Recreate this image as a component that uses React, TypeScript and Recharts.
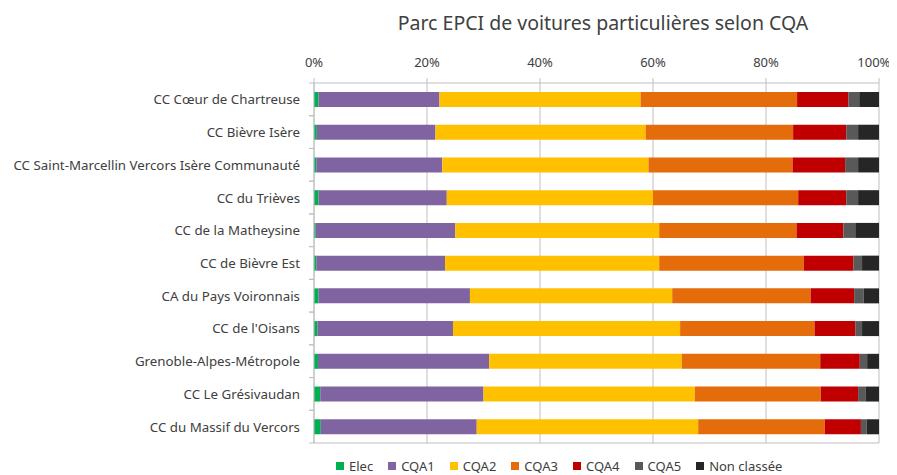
import {
  Bar,
  BarChart,
  CartesianGrid,
  Legend,
  XAxis,
  YAxis,
} from "recharts";

// Parc EPCI de voitures particulières selon CQA (shares in %)

const CATEGORIES = [
  "CC Cœur de Chartreuse",
  "CC Bièvre Isère",
  "CC Saint-Marcellin Vercors Isère Communauté",
  "CC du Trièves",
  "CC de la Matheysine",
  "CC de Bièvre Est",
  "CA du Pays Voironnais",
  "CC de l'Oisans",
  "Grenoble-Alpes-Métropole",
  "CC Le Grésivaudan",
  "CC du Massif du Vercors",
];

const ELEC = [0.8, 0.5, 0.4, 0.8, 0.3, 0.4, 0.8, 0.6, 0.7, 1.1, 1.2];
const CQA1 = [21.4, 21.0, 22.3, 22.7, 24.7, 22.8, 26.8, 24.0, 30.3, 28.9, 27.6];
const CQA2 = [35.6, 37.2, 36.5, 36.5, 36.1, 37.9, 35.8, 40.2, 34.1, 37.4, 39.2];
const CQA3 = [27.7, 26.1, 25.5, 25.7, 24.3, 25.6, 24.5, 23.8, 24.5, 22.3, 22.4];
const CQA4 = [9.1, 9.4, 9.3, 8.5, 8.3, 8.8, 7.7, 7.2, 7.0, 6.6, 6.4];
const CQA5 = [1.9, 2.1, 2.3, 2.1, 2.1, 1.5, 1.7, 1.2, 1.3, 1.3, 1.0];
const NON_CLASSEE = [3.5, 3.7, 3.7, 3.7, 4.2, 3.0, 2.7, 3.0, 2.1, 2.4, 2.2];

const X_TICKS = [0, 0.2, 0.4, 0.6, 0.8, 1];

const SERIES = [
  { key: "elec", name: "Elec", color: "#00b050", values: ELEC },
  { key: "cqa1", name: "CQA1", color: "#8064a2", values: CQA1 },
  { key: "cqa2", name: "CQA2", color: "#ffc000", values: CQA2 },
  { key: "cqa3", name: "CQA3", color: "#e46c0a", values: CQA3 },
  { key: "cqa4", name: "CQA4", color: "#c00000", values: CQA4 },
  { key: "cqa5", name: "CQA5", color: "#595959", values: CQA5 },
  { key: "nc", name: "Non classée", color: "#262626", values: NON_CLASSEE },
];

const data = CATEGORIES.map((name, i) => {
  const row: Record<string, string | number> = { name };
  for (const s of SERIES) row[s.key] = s.values[i];
  return row;
});

const FONT = "'Noto Sans', Calibri, sans-serif";
const TEXT = "#404040";
const GRID = "#bfbfbf";

function CategoryTick(props: any) {
  const { x, y, payload } = props;
  const half = payload?.offset || 16.3;
  return (
    <g>
      <text
        x={x}
        y={y}
        textAnchor="end"
        dominantBaseline="central"
        fontSize={13.3}
        fontFamily={FONT}
        fill={TEXT}
      >
        {payload.value}
      </text>
      <line x1={x + 9} x2={x + 14} y1={y - half} y2={y - half} stroke={GRID} />
      <line x1={x + 9} x2={x + 14} y1={y + half} y2={y + half} stroke={GRID} />
    </g>
  );
}

function LegendContent() {
  return (
    <div
      style={{
        height: 32,
        display: "flex",
        alignItems: "flex-end",
        paddingLeft: 322,
        paddingBottom: 0,
        boxSizing: "border-box",
        fontFamily: FONT,
        fontSize: 13,
        color: TEXT,
      }}
    >
      {SERIES.map((s) => (
        <span
          key={s.key}
          style={{ display: "flex", alignItems: "center", marginRight: 15 }}
        >
          <span
            style={{
              width: 8,
              height: 8,
              background: s.color,
              marginRight: 5,
              display: "inline-block",
            }}
          />
          {s.name}
        </span>
      ))}
    </div>
  );
}

export default function App() {
  return (
    <div style={{ position: "relative", width: 881, height: 467 }}>
      <div
        style={{
          position: "absolute",
          top: 1,
          left: 0,
          width: 1190,
          textAlign: "center",
          fontFamily: FONT,
          fontSize: 19.5,
          color: TEXT,
          pointerEvents: "none",
        }}
      >
        Parc EPCI de voitures particulières selon CQA
      </div>
      <BarChart
        width={881}
        height={467}
        data={data}
        layout="vertical"
        stackOffset="expand"
        barSize={15}
        margin={{ top: 55, right: 10, bottom: 0, left: 6 }}
      >
        <CartesianGrid
          stroke={GRID}
          horizontalCoordinatesGenerator={({ offset }: any) => [
            offset.top + offset.height,
          ]}
        />
        <XAxis
          type="number"
          orientation="top"
          domain={[0, 1]}
          ticks={X_TICKS}
          tickFormatter={(v) => `${Math.round(v * 100)}%`}
          height={20}
          tickSize={5}
          tickMargin={11}
          stroke={GRID}
          tick={{ fontSize: 13, fill: TEXT, fontFamily: FONT }}
        />
        <YAxis
          type="category"
          dataKey="name"
          width={300}
          tickSize={0}
          tickMargin={14}
          tickLine={false}
          stroke={GRID}
          tick={<CategoryTick />}
          interval={0}
        />
        <Legend verticalAlign="bottom" content={<LegendContent />} />
        {SERIES.map((s) => (
          <Bar
            key={s.key}
            dataKey={s.key}
            name={s.name}
            stackId="parc"
            fill={s.color}
            isAnimationActive={false}
          />
        ))}
      </BarChart>
    </div>
  );
}
